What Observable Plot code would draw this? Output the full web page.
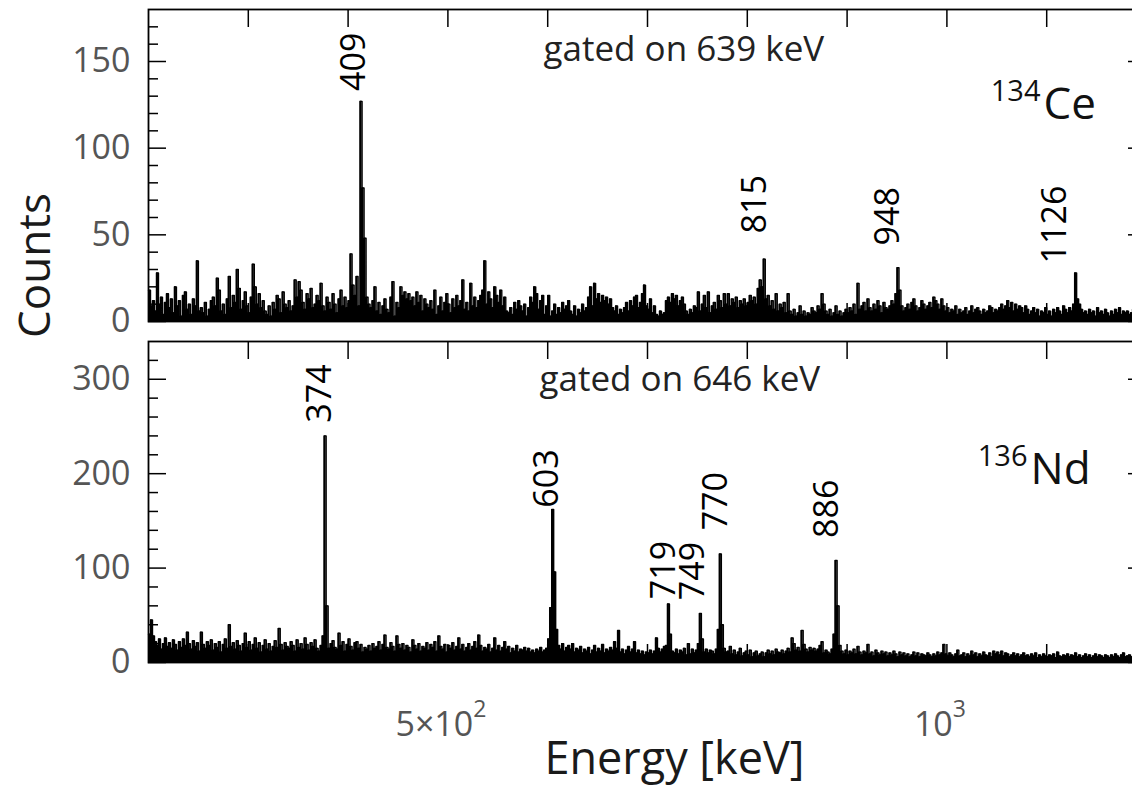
<!DOCTYPE html>
<html>
<head>
<meta charset="utf-8">
<script src="https://cdn.jsdelivr.net/npm/d3@7"></script>
<script src="https://cdn.jsdelivr.net/npm/@observablehq/plot@0.6"></script>
<style>
  html, body { margin: 0; padding: 0; background: #fff; overflow: hidden; }
  #wrap { position: relative; width: 1132px; height: 786px; overflow: hidden; background: #fff; }
  #wrap svg { position: absolute; left: 0; }
</style>
</head>
<body>
<div id="wrap"></div>
<script>
// ---------------- data ----------------
const energyStart = 200;   // keV, low edge of first bin
const binWidth = 2;        // keV per bin

// 134Ce spectrum, gated on 639 keV (counts per bin)
const ceCounts = [
  18, 9, 12, 6, 28, 10, 14, 4, 11, 16,
  8, 13, 5, 20, 9, 12, 3, 15, 17, 7,
  10, 4, 13, 9, 35, 6, 8, 5, 11, 3,
  7, 12, 14, 9, 25, 18, 6, 10, 4, 13,
  26, 8, 15, 11, 30, 19, 7, 12, 17, 9,
  5, 14, 33, 20, 10, 16, 8, 12, 6, 4,
  9, 3, 11, 7, 15, 13, 5, 17, 10, 8,
  12, 6, 9, 24, 14, 23, 18, 11, 7, 16,
  13, 19, 8, 10, 15, 12, 22, 9, 6, 14,
  11, 7, 16, 10, 5, 13, 18, 9, 14, 8,
  12, 39, 21, 15, 26, 9, 127, 77, 48, 14,
  10, 8, 12, 20, 6, 11, 4, 9, 13, 7,
  5, 14, 23, 3, 11, 8, 20, 15, 17, 13,
  16, 12, 14, 9, 17, 11, 15, 6, 13, 10,
  8, 12, 7, 18, 4, 9, 14, 6, 11, 16,
  10, 5, 13, 8, 15, 9, 12, 24, 7, 11,
  6, 22, 9, 14, 8, 12, 15, 18, 35, 10,
  17, 13, 8, 20, 15, 11, 18, 9, 14, 6,
  5, 8, 4, 11, 7, 12, 9, 6, 10, 3,
  8, 14, 11, 20, 16, 7, 12, 15, 4, 9,
  15, 3, 6, 10, 4, 8, 5, 11, 7, 9,
  12, 6, 4, 9, 3, 7, 5, 10, 6, 8,
  14, 20, 9, 22, 13, 16, 11, 15, 12, 14,
  10, 13, 8, 6, 9, 4, 7, 5, 8, 11,
  6, 12, 9, 14, 15, 8, 11, 16, 21, 9,
  7, 13, 5, 9, 4, 3, 6, 4, 5, 12,
  14, 11, 16, 13, 15, 9, 12, 14, 10, 6,
  4, 7, 5, 9, 8, 17, 6, 10, 15, 8,
  17, 5, 9, 11, 7, 15, 12, 8, 16, 10,
  16, 9, 13, 11, 14, 8, 12, 10, 13, 9,
  11, 15, 12, 14, 10, 19, 24, 20, 36, 13,
  15, 9, 12, 7, 16, 6, 10, 8, 11, 5,
  16, 6, 4, 7, 3, 5, 9, 4, 6, 3,
  5, 4, 8, 6, 5, 9, 7, 16, 10, 6,
  4, 7, 3, 5, 9, 4, 6, 3, 5, 7,
  5, 8, 6, 10, 4, 22, 7, 9, 11, 6,
  13, 8, 6, 10, 7, 12, 9, 5, 11, 8,
  7, 9, 12, 10, 16, 31, 18, 9, 6, 8,
  10, 7, 11, 13, 9, 6, 8, 12, 10, 7,
  9, 11, 8, 14, 12, 10, 7, 13, 9, 6,
  8, 5, 7, 6, 9, 4, 7, 5, 6, 8,
  4, 6, 9, 5, 7, 8, 6, 4, 7, 5,
  6, 9, 8, 5, 7, 6, 8, 10, 7, 9,
  12, 8, 11, 6, 10, 7, 9, 8, 5, 9,
  7, 4, 6, 8, 5, 7, 3, 6, 5, 8,
  4, 6, 3, 7, 5, 8, 6, 4, 9, 7,
  5, 8, 6, 10, 28, 13, 10, 7, 5, 6,
  4, 7, 5, 6, 3, 8, 5, 6, 4, 7,
  5, 3, 6, 4, 7, 5, 8, 4, 6, 5,
  6, 4, 5, 7, 4, 6, 5, 3, 6, 5
];

// 136Nd spectrum, gated on 646 keV (counts per bin)
const ndCounts = [
  30, 45, 28, 22, 18, 25, 14, 20, 26, 17,
  21, 15, 24, 19, 13, 22, 16, 25, 18, 32,
  20, 14, 23, 17, 21, 12, 32, 19, 15, 22,
  18, 24, 13, 20, 16, 22, 11, 19, 25, 15,
  40, 17, 21, 14, 23, 18, 12, 20, 31, 16,
  22, 13, 19, 26, 15, 21, 11, 18, 24, 14,
  20, 12, 17, 23, 16, 36, 19, 13, 21, 17,
  15, 22, 18, 12, 24, 16, 20, 14, 26, 19,
  13, 21, 17, 24, 15, 12, 18, 28, 240, 60,
  15, 20, 23, 16, 14, 31, 18, 22, 12, 19,
  25, 17, 13, 21, 22, 15, 19, 11, 16, 14,
  18, 12, 20, 15, 17, 22, 13, 19, 29, 16,
  14, 21, 17, 12, 28, 19, 15, 20, 13, 18,
  16, 11, 24, 18, 14, 20, 12, 17, 15, 21,
  13, 19, 16, 22, 12, 28, 17, 14, 19, 11,
  18, 15, 21, 13, 17, 26, 14, 19, 12, 16,
  20, 13, 17, 22, 15, 29, 18, 12, 16, 14,
  19, 11, 15, 26, 13, 18, 12, 16, 22, 14,
  17, 10, 15, 12, 18, 11, 14, 13, 16, 12,
  15, 11, 13, 10, 14, 12, 16, 11, 13, 15,
  25, 58, 162, 96, 35, 18, 14, 20, 12, 16,
  18, 14, 20, 11, 15, 13, 17, 10, 14, 12,
  16, 9, 13, 18, 11, 15, 12, 19, 10, 14,
  12, 16, 13, 22, 15, 34, 11, 14, 9, 13,
  17, 11, 14, 22, 10, 13, 9, 12, 8, 11,
  10, 13, 9, 12, 26, 15, 11, 14, 17, 18,
  62, 30, 12, 10, 14, 9, 13, 11, 15, 8,
  20, 9, 14, 10, 13, 20, 52, 25, 11, 14,
  10, 13, 12, 9, 14, 35, 115, 40, 15, 11,
  12, 17, 9, 13, 8, 11, 15, 7, 10, 12,
  8, 13, 6, 10, 12, 7, 9, 11, 6, 10,
  13, 9, 12, 8, 14, 11, 10, 13, 9, 12,
  15, 11, 26, 20, 13, 16, 12, 34, 19, 14,
  11, 16, 13, 15, 12, 14, 18, 22, 10, 13,
  11, 9, 14, 30, 108, 60, 18, 12, 9, 13,
  8, 12, 10, 14, 9, 17, 11, 8, 12, 10,
  19, 9, 11, 7, 13, 10, 8, 12, 9, 11,
  7, 10, 8, 12, 9, 6, 11, 8, 10, 7,
  9, 6, 8, 11, 7, 10, 6, 9, 8, 7,
  10, 8, 6, 9, 7, 11, 8, 10, 19, 9,
  7, 10, 8, 6, 9, 13, 7, 8, 10, 6,
  9, 7, 12, 8, 10, 6, 9, 7, 11, 8,
  7, 10, 6, 12, 9, 11, 8, 12, 7, 10,
  9, 6, 8, 10, 7, 9, 6, 8, 10, 7,
  8, 6, 9, 7, 10, 5, 8, 6, 9, 7,
  6, 8, 7, 9, 5, 11, 7, 6, 8, 7,
  9, 6, 8, 7, 10, 6, 8, 5, 7, 9,
  6, 8, 5, 7, 9, 6, 8, 7, 5, 8,
  7, 5, 8, 6, 9, 7, 5, 8, 10, 6,
  7, 8, 6, 5, 7, 6, 8, 5, 6, 7
];

// peak labels (text, label energy, label base height in counts)
const cePeakText = ["409", "815", "948", "1126"];
const cePeakEnergy = [406.4, 808.2, 941.5, 1108.8];
const cePeakLevel = [133, 50.8, 43.9, 33.5];

const ndPeakText = ["374", "603", "719", "749", "770", "886"];
const ndPeakEnergy = [372.3, 599.8, 717.0, 746.1, 769.2, 880.4];
const ndPeakLevel = [254, 164, 67, 66, 140, 132];

// axes
const energyDomain = [200, 1200];
const energyTicks = [300, 400, 500, 600, 700, 800, 900, 1000, 1100];
const energyLabelTicks = [500, 1000];
const energyLabelBase = ["5×10", "10"];
const energyLabelExp = ["2", "3"];
const ceCountDomain = [0, 180];
const ceCountTicks = [0, 50, 100, 150];
const ceMinorStep = 10;
const ndCountDomain = [0, 340];
const ndCountTicks = [0, 100, 200, 300];
const ndMinorStep = 20;

const ceGate = "gated on 639 keV";
const ndGate = "gated on 646 keV";

// ---------------- drawing ----------------
const W = 1147, ML = 148, MR = 1;
const innerW = W - ML - MR;
const FONT = "'Open Sans', sans-serif";

function histRows(counts) {
  const rows = counts.map((c, i) => ({e: energyStart + i * binWidth, c}));
  rows.push({e: energyStart + counts.length * binWidth, c: counts[counts.length - 1]});
  return rows;
}

function panel(o) {
  const innerH = o.height - o.marginTop - o.marginBottom;
  const minor = d3.range(o.minorStep, o.yDomain[1], o.minorStep).filter(v => !o.yTicks.includes(v));
  const rows = histRows(o.counts);
  const tk = {stroke: "black", strokeWidth: 1.5};
  const peaks = o.peakText.map((t, i) => ({t, e: o.peakEnergy[i], y: o.peakLevel[i]}));
  const marks = [
    Plot.tickX(energyTicks, {x: d => d, ...tk, insetBottom: innerH - 18}),
    Plot.tickX(energyTicks, {x: d => d, ...tk, insetTop: innerH - 18}),
    Plot.tickY(o.yTicks, {y: d => d, ...tk, insetRight: innerW - 18}),
    Plot.tickY(minor, {y: d => d, ...tk, insetRight: innerW - 10}),
    Plot.tickY(o.yTicks, {y: d => d, ...tk, insetLeft: innerW - 18}),
    Plot.tickY(minor, {y: d => d, ...tk, insetLeft: innerW - 10}),
    Plot.areaY(rows, {x: "e", y: "c", curve: "step-after", fill: "black"}),
    Plot.line(rows, {x: "e", y: "c", curve: "step-after", stroke: "black", strokeWidth: 1.4}),
    Plot.frame({stroke: "black", strokeWidth: 1.8}),
    Plot.text(peaks, {x: "e", y: "y", text: "t", rotate: -90, textAnchor: "start", lineAnchor: "middle",
      fontSize: 34, fill: "black", fontFamily: FONT}),
    Plot.text([o.gate], {text: d => d, frameAnchor: "top-left", textAnchor: "start", lineAnchor: "bottom",
      dx: o.gateDx, dy: o.gateDy, fontSize: 35, fill: "#222", fontFamily: FONT}),
    Plot.text([o.mass], {text: d => d, frameAnchor: "top-right", textAnchor: "end", lineAnchor: "bottom",
      dx: o.massDx, dy: o.massDy, fontSize: 29, fill: "#111", fontFamily: FONT}),
    Plot.text([o.element], {text: d => d, frameAnchor: "top-right", textAnchor: "start", lineAnchor: "bottom",
      dx: o.elDx, dy: o.elDy, fontSize: 44, fill: "#111", fontFamily: FONT}),
    ...(o.extra || [])
  ];
  const svg = Plot.plot({
    width: W,
    height: o.height,
    marginLeft: ML,
    marginRight: MR,
    marginTop: o.marginTop,
    marginBottom: o.marginBottom,
    style: {fontSize: "34px", fontFamily: FONT, color: "#555", overflow: "visible", maxWidth: "none", background: "transparent"},
    x: o.xAxis,
    y: {domain: o.yDomain, ticks: o.yTicks, tickSize: 0, tickPadding: 18, label: null},
    marks
  });
  svg.style.top = o.top + "px";
  return svg;
}

const wrap = document.getElementById("wrap");

wrap.appendChild(panel({
  top: 0, height: 330, marginTop: 9, marginBottom: 9,
  counts: ceCounts, yDomain: ceCountDomain, yTicks: ceCountTicks, minorStep: ceMinorStep,
  peakText: cePeakText, peakEnergy: cePeakEnergy, peakLevel: cePeakLevel,
  gate: ceGate, gateDx: 395, gateDy: 51,
  mass: "134", massDx: -106, massDy: 91,
  element: "Ce", elDx: -103, elDy: 109,
  xAxis: {domain: energyDomain, axis: null},
  extra: [
    Plot.text(["Counts"], {text: d => d, frameAnchor: "left", dx: -113, dy: 100, rotate: -90,
      textAnchor: "middle", lineAnchor: "middle", fontSize: 44, fill: "#1a1a1a", fontFamily: FONT})
  ]
}));

const bottomSvg = panel({
  top: 330, height: 456, marginTop: 11, marginBottom: 124,
  counts: ndCounts, yDomain: ndCountDomain, yTicks: ndCountTicks, minorStep: ndMinorStep,
  peakText: ndPeakText, peakEnergy: ndPeakEnergy, peakLevel: ndPeakLevel,
  gate: ndGate, gateDx: 391, gateDy: 49,
  mass: "136", massDx: -119, massDy: 124,
  element: "Nd", elDx: -116, elDy: 142,
  xAxis: {domain: energyDomain, ticks: energyLabelTicks, tickSize: 0, tickPadding: 49, label: null,
    tickFormat: d => energyLabelBase[energyLabelTicks.indexOf(d)] + "^" + energyLabelExp[energyLabelTicks.indexOf(d)]},
  extra: [
    Plot.text(["Energy [keV]"], {text: d => d, frameAnchor: "bottom", dx: 27, dy: 111,
      textAnchor: "middle", lineAnchor: "bottom", fontSize: 45, fill: "#1a1a1a", fontFamily: FONT})
  ]
});
wrap.appendChild(bottomSvg);

// render the power-of-ten tick labels with real superscripts
bottomSvg.querySelectorAll("text").forEach(t => {
  const m = /^(.*)\^(\d)$/.exec(t.textContent);
  if (!m) return;
  t.textContent = m[1];
  const sup = document.createElementNS("http://www.w3.org/2000/svg", "tspan");
  sup.setAttribute("dy", "-19");
  sup.setAttribute("font-size", "23");
  sup.textContent = m[2];
  t.appendChild(sup);
  t.setAttribute("dx", "-7");
});
</script>
</body>
</html>
